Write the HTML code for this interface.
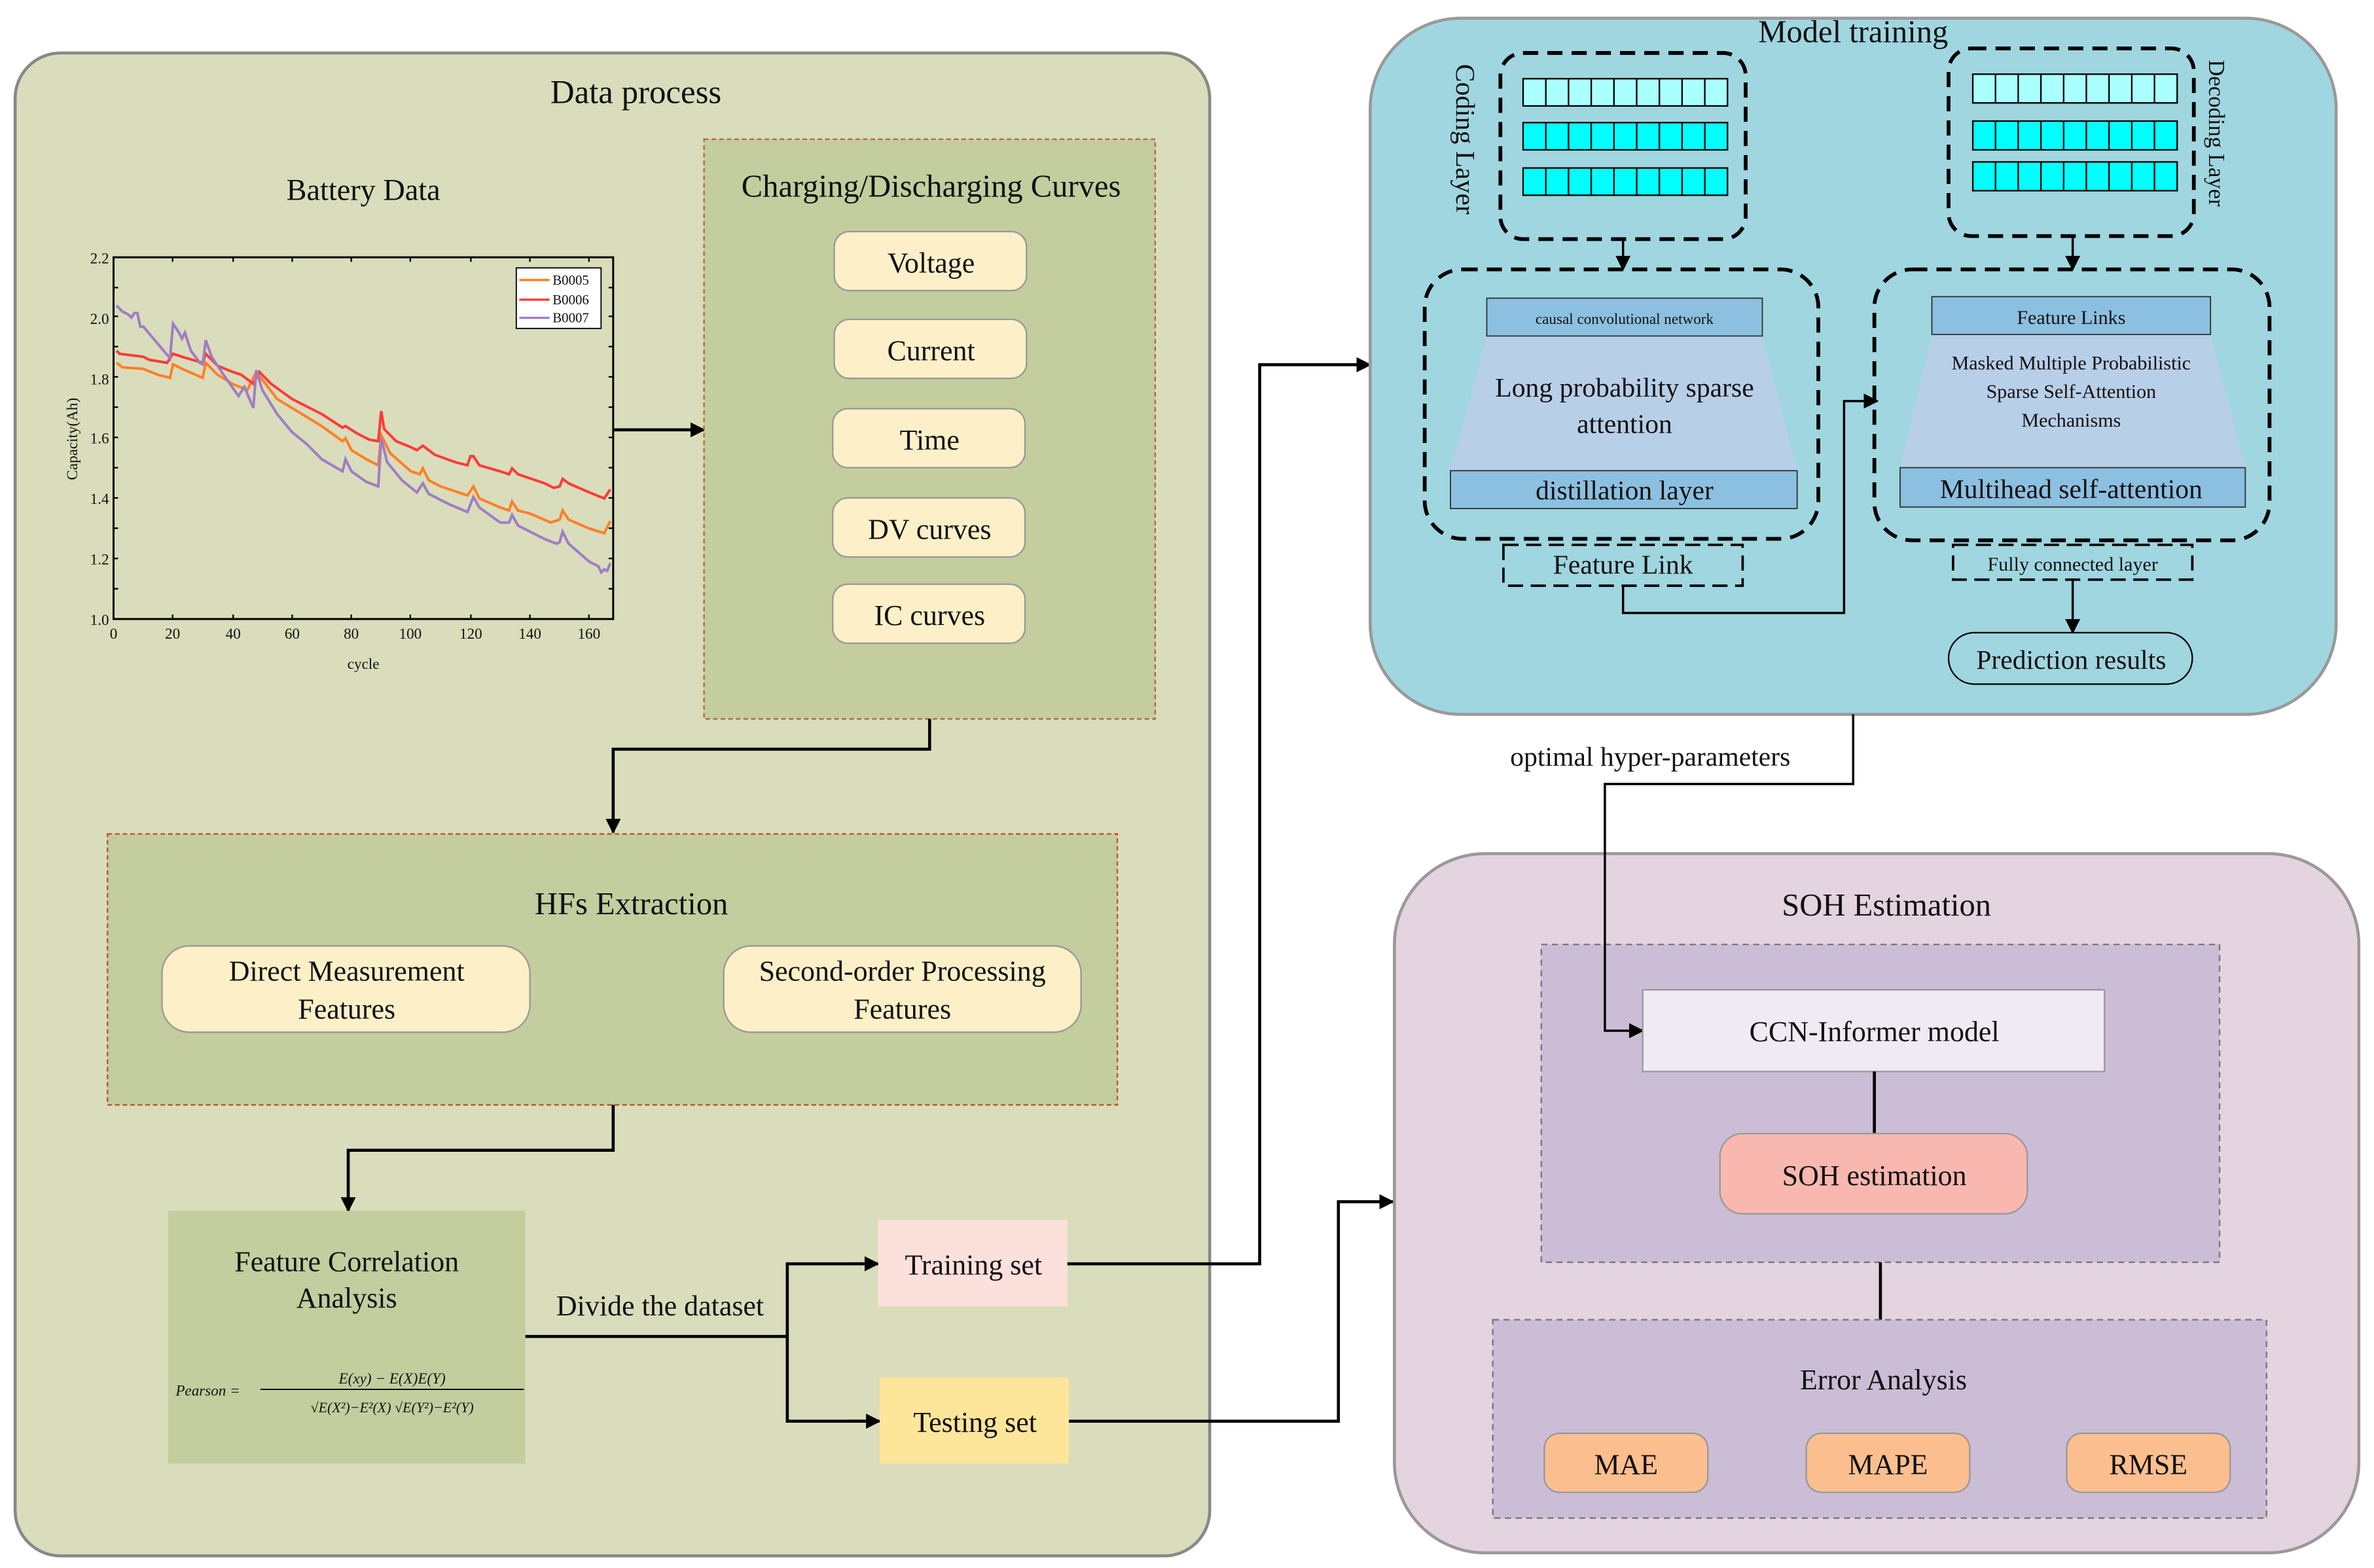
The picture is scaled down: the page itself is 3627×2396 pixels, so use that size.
<!DOCTYPE html>
<html><head><meta charset="utf-8"><style>
html,body{margin:0;padding:0;background:#fff}
svg{display:block}
text{font-family:"Liberation Serif",serif;fill:#111}
</style></head><body>
<svg width="3627" height="2396" viewBox="0 0 1568 1036" preserveAspectRatio="none" xmlns="http://www.w3.org/2000/svg">
<defs>
<marker id="ar" markerWidth="10" markerHeight="10" refX="9" refY="5" orient="auto" markerUnits="userSpaceOnUse"><path d="M0,0 L10,5 L0,10 z" fill="#000"/></marker>
</defs>
<rect width="1568" height="1036" fill="#fff"/>
<!-- Data process -->
<rect x="10" y="35" width="789" height="993" rx="30" fill="#d9ddbb" stroke="#888" stroke-width="2"/>
<text x="420" y="68" font-size="22" text-anchor="middle">Data process</text>
<text x="240" y="132" font-size="20" text-anchor="middle">Battery Data</text>
<!-- chart -->
<g font-size="10">
<rect x="75" y="170" width="330" height="239" fill="none" stroke="#000" stroke-width="1.3"/>
<path d="M75,389h3M75,369h3M75,349h3M75,329h3M75,309h3M75,289h3M75,269h3M75,249h3M75,229h3M75,209h3M75,190h3 M402,389h3M402,369h3M402,349h3M402,329h3M402,309h3M402,289h3M402,269h3M402,249h3M402,229h3M402,209h3M402,190h3 M114,406v3M154,406v3M193,406v3M232,406v3M271,406v3M311,406v3M350,406v3M389,406v3 M114,170v3M154,170v3M193,170v3M232,170v3M271,170v3M311,170v3M350,170v3M389,170v3" stroke="#000" stroke-width="1"/>
<g text-anchor="end">
<text x="72" y="413">1.0</text><text x="72" y="373">1.2</text><text x="72" y="333">1.4</text><text x="72" y="293">1.6</text><text x="72" y="254">1.8</text><text x="72" y="214">2.0</text><text x="72" y="174">2.2</text>
</g>
<g text-anchor="middle">
<text x="75" y="422">0</text><text x="114" y="422">20</text><text x="154" y="422">40</text><text x="193" y="422">60</text><text x="232" y="422">80</text><text x="271" y="422">100</text><text x="311" y="422">120</text><text x="350" y="422">140</text><text x="389" y="422">160</text>
<text x="240" y="442">cycle</text>
</g>
<text transform="translate(51,290) rotate(-90)" text-anchor="middle">Capacity(Ah)</text>
<g transform="translate(75,409) scale(1.9643,-199.17) translate(0,-1)" fill="none" stroke-width="4">
<polyline vector-effect="non-scaling-stroke" stroke="#ff7f27" points="1,1.85 3,1.835 10,1.83 15,1.81 19,1.80 20,1.845 23,1.83 30,1.80 31,1.85 35,1.81 40,1.78 45,1.76 48,1.82 55,1.73 60,1.70 70,1.64 77,1.59 78,1.60 80,1.56 85,1.53 89,1.51 90,1.61 93,1.55 100,1.49 103,1.48 104,1.50 106,1.46 110,1.44 119,1.41 121,1.44 123,1.40 130,1.37 133,1.36 134,1.39 136,1.36 140,1.35 147,1.32 150,1.33 151,1.36 153,1.33 160,1.30 165,1.285 167,1.325"/>
<polyline vector-effect="non-scaling-stroke" stroke="#ff3a3a" points="1,1.89 2,1.88 10,1.87 12,1.86 18,1.85 20,1.88 23,1.87 30,1.85 31,1.88 35,1.84 40,1.82 43,1.81 47,1.78 49,1.82 53,1.78 60,1.73 70,1.68 77,1.635 78,1.64 82,1.615 86,1.595 89,1.59 90,1.69 91,1.63 95,1.59 100,1.57 102,1.56 104,1.575 108,1.545 115,1.52 119,1.51 120,1.54 121,1.54 123,1.51 130,1.49 133,1.48 134,1.50 136,1.48 145,1.45 148,1.435 150,1.44 151,1.465 153,1.45 160,1.42 165,1.40 167,1.43"/>
<polyline vector-effect="non-scaling-stroke" stroke="#a07cc5" points="1,2.04 3,2.02 5,2.01 6,2.0 7,2.015 8,2.015 9,1.97 10,1.97 19,1.865 20,1.98 22,1.95 23,1.93 24,1.95 26,1.89 29,1.85 30,1.845 31,1.925 33,1.87 37,1.81 42,1.74 44,1.77 47,1.70 48,1.825 50,1.76 55,1.68 60,1.62 65,1.58 70,1.53 77,1.49 78,1.53 80,1.49 85,1.455 89,1.44 90,1.60 92,1.52 97,1.46 102,1.42 104,1.45 106,1.415 113,1.38 119,1.355 121,1.405 123,1.37 130,1.32 133,1.32 134,1.345 136,1.31 145,1.265 149,1.25 150,1.255 151,1.29 153,1.25 160,1.19 163,1.175 164,1.155 165,1.165 166,1.16 167,1.185"/>
</g>
<rect x="341" y="177" width="56" height="40" fill="#fff" stroke="#000" stroke-width="0.8"/>
<line x1="343" y1="185" x2="363" y2="185" stroke="#ff7f27" stroke-width="1.5"/><text x="365" y="188" font-size="9">B0005</text>
<line x1="343" y1="198" x2="363" y2="198" stroke="#ff3a3a" stroke-width="1.5"/><text x="365" y="201" font-size="9">B0006</text>
<line x1="343" y1="210" x2="363" y2="210" stroke="#a07cc5" stroke-width="1.5"/><text x="365" y="213" font-size="9">B0007</text>
</g>
<line x1="405" y1="284" x2="465" y2="284" stroke="#000" stroke-width="2" marker-end="url(#ar)"/>
<!-- Charging box -->
<rect x="465" y="92" width="298" height="383" fill="#c3cd9e" stroke="#b5663a" stroke-dasharray="3,2"/>
<text x="615" y="130" font-size="21" text-anchor="middle">Charging/Discharging Curves</text>
<g fill="#fdf0c8" stroke="#999">
<rect x="551" y="153" width="127" height="39" rx="10"/><rect x="551" y="211" width="127" height="39" rx="10"/><rect x="550" y="270" width="127" height="39" rx="10"/><rect x="550" y="329" width="127" height="39" rx="10"/><rect x="550" y="386" width="127" height="39" rx="10"/>
</g>
<g font-size="19" text-anchor="middle">
<text x="615" y="180">Voltage</text><text x="615" y="238">Current</text><text x="614" y="297">Time</text><text x="614" y="356">DV curves</text><text x="614" y="413">IC curves</text>
</g>
<polyline points="614,475 614,495 405,495 405,550" fill="none" stroke="#000" stroke-width="2" marker-end="url(#ar)"/>
<!-- HFs -->
<rect x="71" y="551" width="667" height="179" fill="#c3cd9e" stroke="#c0502a" stroke-dasharray="3,2"/>
<text x="417" y="604" font-size="21" text-anchor="middle">HFs Extraction</text>
<rect x="107" y="625" width="243" height="57" rx="18" fill="#fdf0c8" stroke="#999"/>
<rect x="478" y="625" width="236" height="57" rx="18" fill="#fdf0c8" stroke="#999"/>
<g font-size="19" text-anchor="middle">
<text x="229" y="648">Direct Measurement</text><text x="229" y="673">Features</text>
<text x="596" y="648">Second-order Processing</text><text x="596" y="673">Features</text>
</g>
<polyline points="405,730 405,760 230,760 230,800" fill="none" stroke="#000" stroke-width="2" marker-end="url(#ar)"/>
<!-- Feature correlation -->
<rect x="111" y="800" width="236" height="167" fill="#c3cd9e"/>
<text x="229" y="840" font-size="19" text-anchor="middle">Feature Correlation</text>
<text x="229" y="864" font-size="19" text-anchor="middle">Analysis</text>
<g font-size="10" font-style="italic">
<text x="116" y="922">Pearson =</text>
<text x="259" y="914" text-anchor="middle">E(xy) − E(X)E(Y)</text>
<line x1="172" y1="918" x2="346" y2="918" stroke="#000" stroke-width="0.8"/>
<text x="259" y="933" text-anchor="middle" font-size="9.5">√E(X²)−E²(X) √E(Y²)−E²(Y)</text>
</g>
<line x1="347" y1="883" x2="520" y2="883" stroke="#000" stroke-width="2"/>
<polyline points="580,835 520,835 520,939 580,939" fill="none" stroke="#000" stroke-width="2"/>
<line x1="560" y1="835" x2="580" y2="835" stroke="#000" stroke-width="2" marker-end="url(#ar)"/>
<line x1="560" y1="939" x2="581" y2="939" stroke="#000" stroke-width="2" marker-end="url(#ar)"/>
<text x="436" y="869" font-size="19" text-anchor="middle">Divide the dataset</text>
<rect x="580" y="806" width="125" height="57" fill="#fce0dc"/>
<rect x="581" y="910" width="125" height="57" fill="#fde59a"/>
<text x="643" y="842" font-size="19" text-anchor="middle">Training set</text>
<text x="644" y="946" font-size="19" text-anchor="middle">Testing set</text>
<polyline points="705,835 832,835 832,241 905,241" fill="none" stroke="#000" stroke-width="2" marker-end="url(#ar)"/>
<polyline points="706,939 884,939 884,794 920,794" fill="none" stroke="#000" stroke-width="2" marker-end="url(#ar)"/>
<!-- Model training -->
<rect x="905" y="12" width="638" height="460" rx="60" fill="#a0d6e0" stroke="#999" stroke-width="2"/>
<text x="1224" y="28" font-size="21" text-anchor="middle">Model  training</text>
<g fill="none" stroke="#000" stroke-width="2.5" stroke-dasharray="10,6">
<rect x="991" y="35" width="162" height="123" rx="15"/>
<rect x="1287" y="32" width="162" height="124" rx="15"/>
<rect x="941" y="178" width="260" height="178" rx="25"/>
<rect x="1238" y="178" width="261" height="179" rx="25"/>
</g>
<g fill="none" stroke="#000" stroke-width="1.6" stroke-dasharray="10,5">
<rect x="993" y="360" width="158" height="27"/>
<rect x="1290" y="360" width="158" height="23"/>
</g>
<g stroke="#000" stroke-width="1">
<rect x="1006" y="52" width="135" height="18" fill="#aaffff"/>
<rect x="1006" y="81" width="135" height="18" fill="#00ffff"/>
<rect x="1006" y="111" width="135" height="18" fill="#00ffff"/>
<rect x="1303" y="49" width="135" height="19" fill="#aaffff"/>
<rect x="1303" y="80" width="135" height="19" fill="#00ffff"/>
<rect x="1303" y="107" width="135" height="19" fill="#00ffff"/>
<path d="M1021,52v18M1036,52v18M1051,52v18M1066,52v18M1081,52v18M1096,52v18M1111,52v18M1126,52v18 M1021,81v18M1036,81v18M1051,81v18M1066,81v18M1081,81v18M1096,81v18M1111,81v18M1126,81v18 M1021,111v18M1036,111v18M1051,111v18M1066,111v18M1081,111v18M1096,111v18M1111,111v18M1126,111v18" fill="none"/>
<path d="M1318,49v19M1333,49v19M1348,49v19M1363,49v19M1378,49v19M1393,49v19M1408,49v19M1423,49v19 M1318,80v19M1333,80v19M1348,80v19M1363,80v19M1378,80v19M1393,80v19M1408,80v19M1423,80v19 M1318,107v19M1333,107v19M1348,107v19M1363,107v19M1378,107v19M1393,107v19M1408,107v19M1423,107v19" fill="none"/>
</g>
<text transform="translate(962,92) rotate(90)" font-size="18" text-anchor="middle">Coding Layer</text>
<text transform="translate(1459,88) rotate(90)" font-size="15" text-anchor="middle">Decoding Layer</text>
<line x1="1072" y1="158" x2="1072" y2="178" stroke="#000" stroke-width="1.5" marker-end="url(#ar)"/>
<line x1="1369" y1="156" x2="1369" y2="178" stroke="#000" stroke-width="1.5" marker-end="url(#ar)"/>
<polygon points="982,222 1164,222 1187,311 958,311" fill="#b8cfe8"/>
<rect x="982" y="197" width="182" height="25" fill="#8cc0e0" stroke="#333" stroke-width="0.8"/>
<rect x="958" y="311" width="229" height="25" fill="#8cc0e0" stroke="#333" stroke-width="0.8"/>
<text x="1073" y="214" font-size="10" text-anchor="middle">causal convolutional network</text>
<text x="1073" y="262" font-size="18" text-anchor="middle">Long probability sparse</text>
<text x="1073" y="286" font-size="18" text-anchor="middle">attention</text>
<text x="1073" y="330" font-size="18" text-anchor="middle">distillation layer</text>
<polygon points="1276,221 1460,221 1483,309 1255,309" fill="#b8cfe8"/>
<rect x="1276" y="196" width="184" height="25" fill="#8cc0e0" stroke="#333" stroke-width="0.8"/>
<rect x="1255" y="309" width="228" height="26" fill="#8cc0e0" stroke="#333" stroke-width="0.8"/>
<text x="1368" y="214" font-size="13" text-anchor="middle">Feature Links</text>
<text x="1368" y="244" font-size="13" text-anchor="middle">Masked Multiple Probabilistic</text>
<text x="1368" y="263" font-size="13" text-anchor="middle">Sparse Self-Attention</text>
<text x="1368" y="282" font-size="13" text-anchor="middle">Mechanisms</text>
<text x="1368" y="329" font-size="18" text-anchor="middle">Multihead self-attention</text>
<text x="1072" y="379" font-size="18" text-anchor="middle">Feature Link</text>
<text x="1369" y="377" font-size="13" text-anchor="middle">Fully connected layer</text>
<polyline points="1072,387 1072,405 1218,405 1218,265 1240,265" fill="none" stroke="#000" stroke-width="1.5" marker-end="url(#ar)"/>
<line x1="1369" y1="383" x2="1369" y2="418" stroke="#000" stroke-width="1.5" marker-end="url(#ar)"/>
<rect x="1287" y="418" width="161" height="34" rx="17" fill="#a0d6e0" stroke="#000" stroke-width="1"/>
<text x="1368" y="442" font-size="18" text-anchor="middle">Prediction results</text>
<!-- SOH -->
<rect x="921" y="564" width="637" height="462" rx="60" fill="#e3d4df" stroke="#999" stroke-width="2"/>
<text x="1246" y="605" font-size="21" text-anchor="middle">SOH Estimation</text>
<rect x="1018" y="624" width="448" height="210" fill="#cbbdd6" stroke="#777" stroke-dasharray="4,3"/>
<polyline points="1224,472 1224,518 1060,518 1060,681 1085,681" fill="none" stroke="#000" stroke-width="1.5" marker-end="url(#ar)"/>
<text x="1090" y="506" font-size="18" text-anchor="middle">optimal hyper-parameters</text>
<rect x="1085" y="654" width="305" height="54" fill="#f0eaf4" stroke="#999"/>
<text x="1238" y="688" font-size="19" text-anchor="middle">CCN-Informer model</text>
<line x1="1238" y1="708" x2="1238" y2="749" stroke="#000" stroke-width="2"/>
<rect x="1136" y="749" width="203" height="53" rx="15" fill="#f8b8b0" stroke="#999"/>
<text x="1238" y="783" font-size="19" text-anchor="middle">SOH estimation</text>
<line x1="1242" y1="834" x2="1242" y2="872" stroke="#000" stroke-width="2"/>
<rect x="986" y="872" width="511" height="131" fill="#cbbdd6" stroke="#777" stroke-dasharray="4,3"/>
<text x="1244" y="918" font-size="19" text-anchor="middle">Error Analysis</text>
<g fill="#fbbf8f" stroke="#999">
<rect x="1020" y="947" width="108" height="39" rx="10"/><rect x="1193" y="947" width="108" height="39" rx="10"/><rect x="1365" y="947" width="108" height="39" rx="10"/>
</g>
<g font-size="19" text-anchor="middle">
<text x="1074" y="974">MAE</text><text x="1247" y="974">MAPE</text><text x="1419" y="974">RMSE</text>
</g>
</svg>
</body></html>
